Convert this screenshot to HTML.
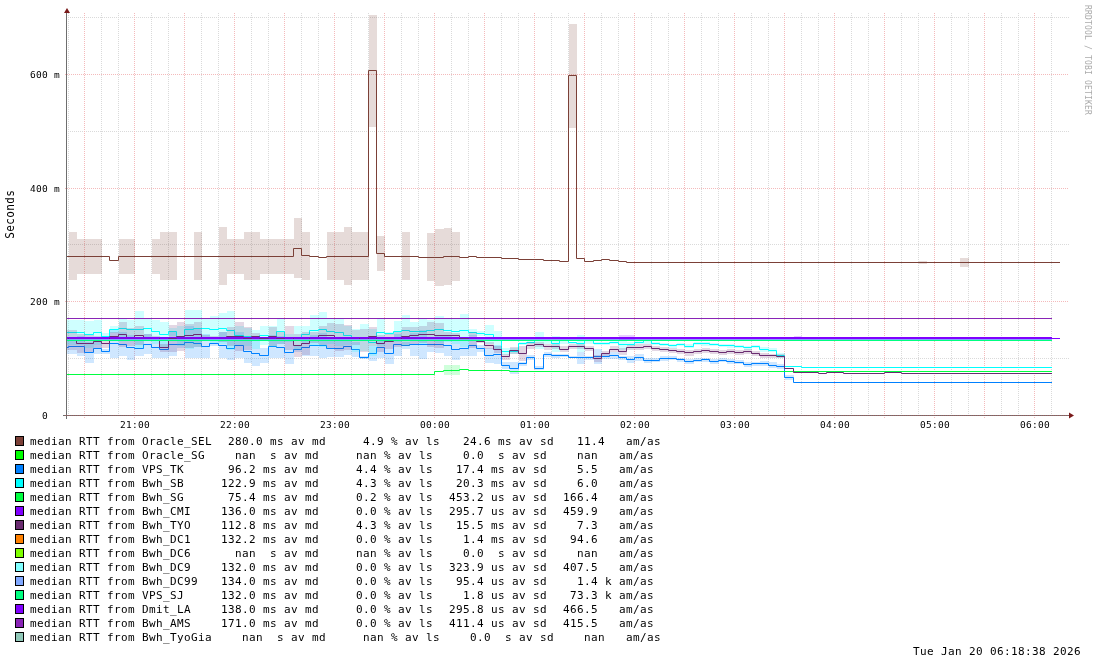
<!DOCTYPE html>
<html lang="en"><head><meta charset="utf-8"><title>SmokePing RTT graph</title>
<style>
html,body{margin:0;padding:0;background:#fff;}
body{width:1097px;height:665px;overflow:hidden;}
svg{display:block;}
text{font-family:"DejaVu Sans Mono","Liberation Mono",monospace;fill:#000;white-space:pre;}
.lg{font-size:11px;letter-spacing:0.3774px;}
.ax{font-size:9.5px;letter-spacing:0.2805px;}
.wm{font-size:8px;letter-spacing:0.18px;fill:#aaaaaa;}
</style></head><body>
<svg width="1097" height="665" viewBox="0 0 1097 665">
<rect width="1097" height="665" fill="#fff"/>
<g fill="none" stroke-width="1" stroke-dasharray="1 1"><path d="M68.5 13V417M101.5 13V417M118.5 13V417M151.5 13V417M168.5 13V417M201.5 13V417M218.5 13V417M251.5 13V417M268.5 13V417M301.5 13V417M318.5 13V417M351.5 13V417M368.5 13V417M401.5 13V417M418.5 13V417M451.5 13V417M468.5 13V417M501.5 13V417M518.5 13V417M551.5 13V417M568.5 13V417M601.5 13V417M618.5 13V417M651.5 13V417M668.5 13V417M701.5 13V417M718.5 13V417M751.5 13V417M768.5 13V417M801.5 13V417M818.5 13V417M851.5 13V417M868.5 13V417M901.5 13V417M918.5 13V417M951.5 13V417M968.5 13V417M1001.5 13V417M1018.5 13V417M1051.5 13V417" stroke="#dadada"/><path d="M66 358.5H1069M66 244.5H1069M66 131.5H1069M66 17.5H1069" stroke="#dadada"/><path d="M84.5 13V418M134.5 13V418M184.5 13V418M234.5 13V418M284.5 13V418M334.5 13V418M384.5 13V418M434.5 13V418M484.5 13V418M534.5 13V418M584.5 13V418M634.5 13V418M684.5 13V418M734.5 13V418M784.5 13V418M834.5 13V418M884.5 13V418M934.5 13V418M984.5 13V418M1034.5 13V418" stroke="#f4babb"/><path d="M65 415.5H1069M65 301.5H1069M65 188.5H1069M65 74.5H1069" stroke="#f4babb"/></g>
<g id="plot">
<g fill="#7b4037" fill-opacity="0.19" shape-rendering="crispEdges"><rect x="69" y="232" width="8" height="48"/><rect x="77" y="239" width="25" height="35"/><rect x="119" y="239" width="16" height="35"/><rect x="152" y="239" width="8" height="35"/><rect x="160" y="232" width="17" height="48"/><rect x="194" y="232" width="8" height="48"/><rect x="219" y="227" width="8" height="58"/><rect x="227" y="239" width="17" height="35"/><rect x="244" y="232" width="16" height="48"/><rect x="260" y="239" width="34" height="35"/><rect x="294" y="218" width="8" height="60"/><rect x="302" y="232" width="8" height="48"/><rect x="327" y="232" width="17" height="48"/><rect x="344" y="227" width="8" height="58"/><rect x="352" y="232" width="17" height="48"/><rect x="369" y="15" width="8" height="112"/><rect x="377" y="236" width="8" height="35"/><rect x="402" y="232" width="8" height="48"/><rect x="427" y="233" width="8" height="48"/><rect x="435" y="229" width="9" height="57"/><rect x="444" y="228" width="8" height="57"/><rect x="452" y="232" width="8" height="49"/><rect x="569" y="24" width="8" height="104"/><rect x="919" y="261" width="8" height="3"/><rect x="960" y="258" width="9" height="9"/></g>
<path d="M67 256.5H109.5V260.5H118.5V256.5H293.5V248.5H301.5V255.5H309.5V256.5H318.5V257.5H326.5V256.5H368.5V70.5H376.5V253.5H384.5V256.5H418.5V257.5H443.5V256.5H459.5V257.5H468.5V256.5H476.5V257.5H501.5V258.5H518.5V259.5H543.5V260.5H559.5V261.5H568.5V75.5H576.5V258.5H584.5V261.5H593.5V260.5H601.5V259.5H609.5V260.5H618.5V261.5H626.5V262.5H1060" fill="none" stroke="#7b4037" stroke-width="1" stroke-linejoin="miter"/>
<g fill="#0080ff" fill-opacity="0.19" shape-rendering="crispEdges"><rect x="67" y="338" width="10" height="16"/><rect x="77" y="336" width="8" height="20"/><rect x="85" y="342" width="9" height="21"/><rect x="94" y="342" width="8" height="12"/><rect x="102" y="349" width="8" height="5"/><rect x="110" y="330" width="9" height="28"/><rect x="119" y="332" width="8" height="24"/><rect x="127" y="335" width="8" height="25"/><rect x="135" y="341" width="9" height="15"/><rect x="144" y="334" width="8" height="20"/><rect x="152" y="338" width="8" height="20"/><rect x="160" y="341" width="9" height="17"/><rect x="169" y="332" width="8" height="24"/><rect x="177" y="341" width="8" height="7"/><rect x="185" y="326" width="9" height="32"/><rect x="194" y="328" width="8" height="30"/><rect x="202" y="334" width="8" height="24"/><rect x="210" y="341" width="9" height="5"/><rect x="219" y="332" width="8" height="26"/><rect x="227" y="337" width="8" height="23"/><rect x="235" y="332" width="9" height="26"/><rect x="244" y="340" width="8" height="23"/><rect x="252" y="341" width="8" height="25"/><rect x="260" y="348" width="9" height="15"/><rect x="269" y="335" width="8" height="23"/><rect x="277" y="336" width="8" height="22"/><rect x="285" y="341" width="9" height="23"/><rect x="294" y="346" width="8" height="6"/><rect x="302" y="339" width="8" height="17"/><rect x="310" y="335" width="9" height="21"/><rect x="319" y="333" width="8" height="25"/><rect x="327" y="340" width="17" height="17"/><rect x="344" y="338" width="8" height="17"/><rect x="352" y="342" width="8" height="15"/><rect x="360" y="356" width="9" height="3"/><rect x="369" y="346" width="8" height="15"/><rect x="377" y="338" width="8" height="20"/><rect x="385" y="342" width="9" height="22"/><rect x="394" y="334" width="8" height="22"/><rect x="402" y="342" width="8" height="7"/><rect x="410" y="333" width="9" height="23"/><rect x="419" y="330" width="8" height="29"/><rect x="427" y="337" width="8" height="15"/><rect x="435" y="336" width="9" height="17"/><rect x="444" y="335" width="8" height="21"/><rect x="452" y="339" width="8" height="21"/><rect x="460" y="341" width="9" height="15"/><rect x="469" y="335" width="8" height="21"/><rect x="477" y="345" width="8" height="7"/><rect x="485" y="348" width="9" height="15"/><rect x="494" y="345" width="8" height="19"/><rect x="502" y="362" width="8" height="7"/><rect x="510" y="362" width="9" height="12"/><rect x="519" y="362" width="8" height="4"/><rect x="527" y="355" width="8" height="5"/><rect x="535" y="366" width="9" height="4"/><rect x="544" y="352" width="8" height="5"/><rect x="552" y="354" width="8" height="4"/><rect x="560" y="354" width="9" height="3"/><rect x="569" y="356" width="8" height="2"/><rect x="577" y="352" width="8" height="12"/><rect x="585" y="356" width="9" height="4"/><rect x="594" y="349" width="8" height="15"/><rect x="602" y="354" width="8" height="5"/><rect x="610" y="352" width="9" height="7"/><rect x="619" y="356" width="8" height="4"/><rect x="627" y="356" width="8" height="7"/><rect x="635" y="354" width="9" height="7"/><rect x="644" y="358" width="8" height="5"/><rect x="652" y="358" width="8" height="4"/><rect x="660" y="356" width="9" height="5"/><rect x="669" y="356" width="8" height="4"/><rect x="677" y="358" width="8" height="4"/><rect x="685" y="359" width="9" height="5"/><rect x="694" y="358" width="16" height="4"/><rect x="710" y="359" width="9" height="5"/><rect x="719" y="358" width="8" height="4"/><rect x="727" y="359" width="8" height="5"/><rect x="735" y="360" width="9" height="4"/><rect x="744" y="362" width="8" height="5"/><rect x="752" y="362" width="8" height="4"/><rect x="760" y="361" width="9" height="5"/><rect x="769" y="362" width="8" height="6"/><rect x="777" y="364" width="8" height="5"/><rect x="785" y="375" width="9" height="5"/><rect x="794" y="382" width="8" height="1"/></g>
<path d="M67 347.5H68.5V346.5H84.5V352.5H93.5V348.5H101.5V351.5H109.5V343.5H118.5V344.5H126.5V347.5H134.5V348.5H143.5V344.5H151.5V347.5H159.5V349.5H168.5V344.5H184.5V342.5H193.5V343.5H201.5V346.5H209.5V343.5H218.5V345.5H226.5V348.5H234.5V345.5H243.5V351.5H251.5V353.5H259.5V355.5H268.5V346.5H276.5V347.5H284.5V352.5H293.5V349.5H301.5V347.5H309.5V345.5H326.5V348.5H343.5V346.5H351.5V349.5H359.5V357.5H368.5V353.5H376.5V347.5H384.5V353.5H393.5V344.5H401.5V345.5H409.5V344.5H443.5V345.5H451.5V349.5H459.5V348.5H468.5V345.5H476.5V348.5H484.5V355.5H493.5V354.5H501.5V365.5H509.5V368.5H518.5V363.5H526.5V357.5H534.5V368.5H543.5V354.5H551.5V355.5H568.5V357.5H593.5V356.5H609.5V355.5H618.5V357.5H626.5V359.5H634.5V357.5H643.5V360.5H659.5V358.5H676.5V359.5H684.5V361.5H693.5V360.5H701.5V359.5H709.5V361.5H718.5V360.5H726.5V361.5H734.5V362.5H743.5V364.5H751.5V363.5H768.5V365.5H776.5V366.5H784.5V377.5H793.5V382.5H1052" fill="none" stroke="#0080ff" stroke-width="1" stroke-linejoin="miter"/>
<g fill="#00ffff" fill-opacity="0.19" shape-rendering="crispEdges"><rect x="67" y="320" width="18" height="25"/><rect x="85" y="321" width="9" height="27"/><rect x="94" y="320" width="8" height="25"/><rect x="102" y="333" width="8" height="7"/><rect x="110" y="326" width="9" height="7"/><rect x="119" y="319" width="8" height="19"/><rect x="127" y="320" width="8" height="19"/><rect x="135" y="311" width="9" height="37"/><rect x="144" y="319" width="8" height="19"/><rect x="152" y="320" width="8" height="24"/><rect x="160" y="322" width="9" height="25"/><rect x="169" y="328" width="8" height="8"/><rect x="177" y="326" width="8" height="20"/><rect x="185" y="310" width="9" height="39"/><rect x="194" y="310" width="8" height="37"/><rect x="202" y="319" width="8" height="19"/><rect x="210" y="316" width="9" height="27"/><rect x="219" y="313" width="8" height="31"/><rect x="227" y="311" width="8" height="39"/><rect x="235" y="326" width="9" height="19"/><rect x="244" y="328" width="8" height="18"/><rect x="252" y="330" width="8" height="19"/><rect x="260" y="326" width="9" height="19"/><rect x="269" y="326" width="8" height="21"/><rect x="277" y="319" width="8" height="25"/><rect x="285" y="334" width="9" height="8"/><rect x="294" y="326" width="8" height="24"/><rect x="302" y="326" width="8" height="17"/><rect x="310" y="315" width="9" height="31"/><rect x="319" y="312" width="8" height="35"/><rect x="327" y="319" width="8" height="25"/><rect x="335" y="319" width="9" height="27"/><rect x="344" y="326" width="8" height="19"/><rect x="352" y="329" width="8" height="23"/><rect x="360" y="324" width="9" height="27"/><rect x="369" y="329" width="8" height="27"/><rect x="377" y="319" width="8" height="27"/><rect x="385" y="332" width="9" height="3"/><rect x="394" y="321" width="8" height="21"/><rect x="402" y="315" width="8" height="31"/><rect x="410" y="322" width="9" height="19"/><rect x="419" y="319" width="8" height="25"/><rect x="427" y="320" width="8" height="20"/><rect x="435" y="316" width="9" height="27"/><rect x="444" y="319" width="8" height="23"/><rect x="452" y="319" width="8" height="25"/><rect x="460" y="314" width="9" height="33"/><rect x="469" y="329" width="8" height="7"/><rect x="477" y="331" width="8" height="5"/><rect x="485" y="325" width="9" height="19"/><rect x="494" y="331" width="8" height="19"/><rect x="502" y="348" width="8" height="7"/><rect x="510" y="348" width="9" height="6"/><rect x="519" y="342" width="8" height="3"/><rect x="527" y="341" width="8" height="3"/><rect x="535" y="332" width="9" height="17"/><rect x="544" y="337" width="8" height="7"/><rect x="552" y="336" width="8" height="16"/><rect x="560" y="337" width="9" height="7"/><rect x="569" y="342" width="8" height="2"/><rect x="577" y="335" width="8" height="17"/><rect x="585" y="337" width="9" height="7"/><rect x="594" y="342" width="16" height="3"/><rect x="610" y="340" width="9" height="4"/><rect x="619" y="340" width="8" height="10"/><rect x="627" y="342" width="8" height="4"/><rect x="635" y="340" width="9" height="4"/><rect x="644" y="337" width="8" height="7"/><rect x="652" y="342" width="8" height="3"/><rect x="660" y="343" width="9" height="3"/><rect x="669" y="344" width="8" height="4"/><rect x="677" y="343" width="8" height="3"/><rect x="685" y="344" width="9" height="4"/><rect x="694" y="342" width="8" height="3"/><rect x="702" y="342" width="8" height="4"/><rect x="710" y="343" width="9" height="3"/><rect x="719" y="344" width="8" height="3"/><rect x="727" y="344" width="8" height="4"/><rect x="735" y="345" width="9" height="3"/><rect x="744" y="346" width="8" height="4"/><rect x="752" y="345" width="8" height="3"/><rect x="760" y="347" width="9" height="5"/><rect x="769" y="348" width="8" height="4"/><rect x="777" y="353" width="8" height="5"/><rect x="785" y="366" width="17" height="1"/></g>
<path d="M67 332.5H84.5V334.5H93.5V332.5H101.5V336.5H109.5V329.5H118.5V328.5H126.5V329.5H143.5V328.5H151.5V331.5H159.5V334.5H168.5V331.5H176.5V336.5H184.5V329.5H193.5V328.5H209.5V329.5H218.5V328.5H226.5V330.5H234.5V335.5H243.5V336.5H251.5V339.5H259.5V335.5H268.5V336.5H276.5V331.5H284.5V338.5H293.5V337.5H301.5V334.5H309.5V330.5H318.5V329.5H326.5V331.5H334.5V332.5H343.5V335.5H351.5V340.5H359.5V337.5H368.5V342.5H376.5V332.5H384.5V333.5H393.5V331.5H401.5V330.5H409.5V331.5H426.5V330.5H434.5V329.5H443.5V330.5H451.5V331.5H459.5V330.5H468.5V332.5H476.5V333.5H484.5V334.5H493.5V340.5H501.5V351.5H518.5V343.5H526.5V342.5H534.5V340.5H551.5V343.5H559.5V340.5H568.5V342.5H576.5V343.5H584.5V340.5H593.5V343.5H609.5V342.5H618.5V344.5H634.5V342.5H643.5V340.5H651.5V343.5H659.5V344.5H668.5V345.5H676.5V344.5H684.5V346.5H693.5V343.5H709.5V344.5H718.5V345.5H734.5V346.5H743.5V347.5H751.5V346.5H759.5V349.5H768.5V350.5H776.5V355.5H784.5V366.5H801.5V367.5H1052" fill="none" stroke="#00ffff" stroke-width="1" stroke-linejoin="miter"/>
<g fill="#00ff40" fill-opacity="0.19" shape-rendering="crispEdges"><rect x="444" y="365" width="16" height="10"/></g>
<path d="M67 374.5H434.5V371.5H443.5V370.5H459.5V369.5H468.5V370.5H509.5V371.5H1052" fill="none" stroke="#00ff40" stroke-width="1" stroke-linejoin="miter"/>
<path d="M67 338.5H1060" fill="none" stroke="#8000ff" stroke-width="1"/>
<g fill="#6a2c70" fill-opacity="0.19" shape-rendering="crispEdges"><rect x="67" y="330" width="10" height="20"/><rect x="77" y="334" width="8" height="19"/><rect x="85" y="335" width="9" height="17"/><rect x="94" y="336" width="8" height="12"/><rect x="102" y="340" width="8" height="8"/><rect x="110" y="332" width="9" height="8"/><rect x="119" y="322" width="8" height="25"/><rect x="127" y="328" width="8" height="18"/><rect x="135" y="326" width="9" height="19"/><rect x="144" y="334" width="8" height="6"/><rect x="152" y="336" width="8" height="2"/><rect x="160" y="344" width="9" height="8"/><rect x="169" y="325" width="8" height="27"/><rect x="177" y="322" width="8" height="29"/><rect x="185" y="324" width="9" height="24"/><rect x="194" y="322" width="8" height="25"/><rect x="202" y="335" width="8" height="5"/><rect x="210" y="336" width="9" height="2"/><rect x="219" y="332" width="8" height="10"/><rect x="227" y="327" width="8" height="19"/><rect x="235" y="322" width="9" height="29"/><rect x="244" y="327" width="8" height="23"/><rect x="252" y="333" width="8" height="7"/><rect x="260" y="338" width="9" height="2"/><rect x="269" y="327" width="8" height="19"/><rect x="277" y="332" width="8" height="12"/><rect x="285" y="326" width="9" height="24"/><rect x="294" y="334" width="8" height="23"/><rect x="302" y="332" width="8" height="23"/><rect x="310" y="332" width="9" height="11"/><rect x="319" y="326" width="8" height="19"/><rect x="327" y="323" width="8" height="25"/><rect x="335" y="324" width="9" height="27"/><rect x="344" y="325" width="8" height="25"/><rect x="352" y="330" width="8" height="15"/><rect x="360" y="329" width="9" height="23"/><rect x="369" y="327" width="8" height="19"/><rect x="377" y="335" width="8" height="17"/><rect x="385" y="334" width="9" height="15"/><rect x="394" y="332" width="8" height="15"/><rect x="402" y="327" width="8" height="19"/><rect x="410" y="327" width="9" height="17"/><rect x="419" y="326" width="8" height="17"/><rect x="427" y="322" width="8" height="25"/><rect x="435" y="323" width="9" height="25"/><rect x="444" y="332" width="8" height="7"/><rect x="452" y="333" width="8" height="5"/><rect x="460" y="338" width="9" height="1"/><rect x="469" y="332" width="8" height="16"/><rect x="477" y="340" width="8" height="3"/><rect x="485" y="342" width="9" height="7"/><rect x="494" y="346" width="8" height="7"/><rect x="502" y="354" width="8" height="6"/><rect x="510" y="347" width="9" height="7"/><rect x="519" y="346" width="8" height="15"/><rect x="527" y="342" width="8" height="7"/><rect x="535" y="342" width="9" height="5"/><rect x="544" y="344" width="8" height="6"/><rect x="552" y="344" width="8" height="5"/><rect x="560" y="346" width="9" height="6"/><rect x="569" y="344" width="16" height="5"/><rect x="585" y="346" width="9" height="5"/><rect x="594" y="355" width="8" height="7"/><rect x="602" y="351" width="8" height="5"/><rect x="610" y="346" width="9" height="6"/><rect x="619" y="348" width="8" height="7"/><rect x="627" y="345" width="8" height="5"/><rect x="635" y="344" width="9" height="6"/><rect x="644" y="344" width="8" height="5"/><rect x="652" y="346" width="8" height="5"/><rect x="660" y="347" width="9" height="5"/><rect x="669" y="348" width="8" height="5"/><rect x="677" y="349" width="8" height="5"/><rect x="685" y="350" width="9" height="6"/><rect x="694" y="349" width="8" height="5"/><rect x="702" y="348" width="8" height="5"/><rect x="710" y="349" width="9" height="5"/><rect x="719" y="350" width="8" height="5"/><rect x="727" y="349" width="8" height="5"/><rect x="735" y="350" width="9" height="5"/><rect x="744" y="349" width="8" height="5"/><rect x="752" y="351" width="8" height="5"/><rect x="760" y="353" width="9" height="5"/><rect x="769" y="354" width="16" height="4"/><rect x="785" y="368" width="9" height="1"/></g>
<path d="M67 337.5H68.5V340.5H76.5V343.5H93.5V341.5H101.5V343.5H109.5V336.5H118.5V334.5H126.5V337.5H134.5V335.5H143.5V337.5H159.5V347.5H168.5V338.5H176.5V336.5H184.5V335.5H193.5V334.5H201.5V337.5H226.5V336.5H243.5V338.5H251.5V336.5H259.5V338.5H268.5V336.5H276.5V338.5H284.5V337.5H293.5V345.5H301.5V343.5H309.5V337.5H318.5V335.5H334.5V337.5H359.5V340.5H368.5V336.5H376.5V343.5H384.5V341.5H393.5V339.5H401.5V336.5H409.5V335.5H418.5V334.5H434.5V335.5H459.5V338.5H468.5V339.5H476.5V341.5H484.5V345.5H493.5V349.5H501.5V356.5H509.5V350.5H518.5V353.5H526.5V345.5H534.5V344.5H543.5V346.5H559.5V349.5H568.5V346.5H584.5V348.5H593.5V358.5H601.5V353.5H609.5V349.5H618.5V351.5H626.5V347.5H643.5V346.5H651.5V348.5H659.5V349.5H668.5V350.5H676.5V351.5H684.5V352.5H693.5V351.5H701.5V350.5H709.5V351.5H718.5V352.5H726.5V351.5H734.5V352.5H743.5V351.5H751.5V353.5H759.5V355.5H776.5V356.5H784.5V368.5H793.5V372.5H818.5V373.5H826.5V372.5H843.5V373.5H884.5V372.5H901.5V373.5H1052" fill="none" stroke="#6a2c70" stroke-width="1" stroke-linejoin="miter"/>
<path d="M67 340.5H1052" fill="none" stroke="#ff8000" stroke-width="1"/>
<path d="M67 340.5H1052" fill="none" stroke="#80ffff" stroke-width="1"/>
<path d="M67 339.5H1052" fill="none" stroke="#80a8ff" stroke-width="1"/>
<path d="M67 340.5H1052" fill="none" stroke="#00ff80" stroke-width="1"/>
<g fill="#8000ff" fill-opacity="0.19" shape-rendering="crispEdges"><rect x="619" y="335" width="16" height="5"/><rect x="794" y="336" width="8" height="3"/></g>
<path d="M67 337.5H1052" fill="none" stroke="#8000ff" stroke-width="1"/>
<path d="M67 318.5H1052" fill="none" stroke="#8924b6" stroke-width="1"/>
</g>
<path d="M63 415.5H1069M66.5 419V11" fill="none" stroke="#6e6e6e" stroke-width="1"/>
<path d="M65 415.5H1069" fill="none" stroke="#e05050" stroke-opacity="0.45" stroke-width="1" stroke-dasharray="1 1"/>
<path d="M1069 412.5L1074 415.5L1069 418.5Z" fill="#7a1a1a"/>
<path d="M64 13L67 8L70 13Z" fill="#7a1a1a"/>
<g class="ax">
<text x="30" y="419" xml:space="preserve">  0  </text>
<text x="30" y="305" xml:space="preserve">200 m</text>
<text x="30" y="192" xml:space="preserve">400 m</text>
<text x="30" y="78" xml:space="preserve">600 m</text>
<text x="120" y="428">21:00</text>
<text x="220" y="428">22:00</text>
<text x="320" y="428">23:00</text>
<text x="420" y="428">00:00</text>
<text x="520" y="428">01:00</text>
<text x="620" y="428">02:00</text>
<text x="720" y="428">03:00</text>
<text x="820" y="428">04:00</text>
<text x="920" y="428">05:00</text>
<text x="1020" y="428">06:00</text>
</g>
<text class="lg" transform="translate(13.7,238.8) rotate(-90) scale(1,1.13)">Seconds</text>
<text class="wm" transform="translate(1085,5) rotate(90)">RRDTOOL / TOBI OETIKER</text>
<g class="lg">
<rect x="15.5" y="436.5" width="8" height="9" fill="#7b4037" stroke="#000" stroke-width="1"/>
<text y="445" xml:space="preserve"><tspan x="30">median RTT from Oracle_SEL</tspan><tspan x="228">280.0 ms av md</tspan><tspan x="349">  4.9 % av ls</tspan><tspan x="456"> 24.6 ms av sd</tspan><tspan x="570"> 11.4   am/as</tspan></text>
<rect x="15.5" y="450.5" width="8" height="9" fill="#00ff00" stroke="#000" stroke-width="1"/>
<text y="459" xml:space="preserve"><tspan x="30">median RTT from Oracle_SG</tspan><tspan x="221">  nan  s av md</tspan><tspan x="342">  nan % av ls</tspan><tspan x="449">  0.0  s av sd</tspan><tspan x="563">  nan   am/as</tspan></text>
<rect x="15.5" y="464.5" width="8" height="9" fill="#0080ff" stroke="#000" stroke-width="1"/>
<text y="473" xml:space="preserve"><tspan x="30">median RTT from VPS_TK</tspan><tspan x="221"> 96.2 ms av md</tspan><tspan x="342">  4.4 % av ls</tspan><tspan x="449"> 17.4 ms av sd</tspan><tspan x="563">  5.5   am/as</tspan></text>
<rect x="15.5" y="478.5" width="8" height="9" fill="#00ffff" stroke="#000" stroke-width="1"/>
<text y="487" xml:space="preserve"><tspan x="30">median RTT from Bwh_SB</tspan><tspan x="221">122.9 ms av md</tspan><tspan x="342">  4.3 % av ls</tspan><tspan x="449"> 20.3 ms av sd</tspan><tspan x="563">  6.0   am/as</tspan></text>
<rect x="15.5" y="492.5" width="8" height="9" fill="#00ff40" stroke="#000" stroke-width="1"/>
<text y="501" xml:space="preserve"><tspan x="30">median RTT from Bwh_SG</tspan><tspan x="221"> 75.4 ms av md</tspan><tspan x="342">  0.2 % av ls</tspan><tspan x="449">453.2 us av sd</tspan><tspan x="563">166.4   am/as</tspan></text>
<rect x="15.5" y="506.5" width="8" height="9" fill="#8000ff" stroke="#000" stroke-width="1"/>
<text y="515" xml:space="preserve"><tspan x="30">median RTT from Bwh_CMI</tspan><tspan x="221">136.0 ms av md</tspan><tspan x="342">  0.0 % av ls</tspan><tspan x="449">295.7 us av sd</tspan><tspan x="563">459.9   am/as</tspan></text>
<rect x="15.5" y="520.5" width="8" height="9" fill="#6a2c70" stroke="#000" stroke-width="1"/>
<text y="529" xml:space="preserve"><tspan x="30">median RTT from Bwh_TYO</tspan><tspan x="221">112.8 ms av md</tspan><tspan x="342">  4.3 % av ls</tspan><tspan x="449"> 15.5 ms av sd</tspan><tspan x="563">  7.3   am/as</tspan></text>
<rect x="15.5" y="534.5" width="8" height="9" fill="#ff8000" stroke="#000" stroke-width="1"/>
<text y="543" xml:space="preserve"><tspan x="30">median RTT from Bwh_DC1</tspan><tspan x="221">132.2 ms av md</tspan><tspan x="342">  0.0 % av ls</tspan><tspan x="449">  1.4 ms av sd</tspan><tspan x="563"> 94.6   am/as</tspan></text>
<rect x="15.5" y="548.5" width="8" height="9" fill="#80ff00" stroke="#000" stroke-width="1"/>
<text y="557" xml:space="preserve"><tspan x="30">median RTT from Bwh_DC6</tspan><tspan x="221">  nan  s av md</tspan><tspan x="342">  nan % av ls</tspan><tspan x="449">  0.0  s av sd</tspan><tspan x="563">  nan   am/as</tspan></text>
<rect x="15.5" y="562.5" width="8" height="9" fill="#80ffff" stroke="#000" stroke-width="1"/>
<text y="571" xml:space="preserve"><tspan x="30">median RTT from Bwh_DC9</tspan><tspan x="221">132.0 ms av md</tspan><tspan x="342">  0.0 % av ls</tspan><tspan x="449">323.9 us av sd</tspan><tspan x="563">407.5   am/as</tspan></text>
<rect x="15.5" y="576.5" width="8" height="9" fill="#80a8ff" stroke="#000" stroke-width="1"/>
<text y="585" xml:space="preserve"><tspan x="30">median RTT from Bwh_DC99</tspan><tspan x="221">134.0 ms av md</tspan><tspan x="342">  0.0 % av ls</tspan><tspan x="449"> 95.4 us av sd</tspan><tspan x="563">  1.4 k am/as</tspan></text>
<rect x="15.5" y="590.5" width="8" height="9" fill="#00ff80" stroke="#000" stroke-width="1"/>
<text y="599" xml:space="preserve"><tspan x="30">median RTT from VPS_SJ</tspan><tspan x="221">132.0 ms av md</tspan><tspan x="342">  0.0 % av ls</tspan><tspan x="449">  1.8 us av sd</tspan><tspan x="563"> 73.3 k am/as</tspan></text>
<rect x="15.5" y="604.5" width="8" height="9" fill="#8000ff" stroke="#000" stroke-width="1"/>
<text y="613" xml:space="preserve"><tspan x="30">median RTT from Dmit_LA</tspan><tspan x="221">138.0 ms av md</tspan><tspan x="342">  0.0 % av ls</tspan><tspan x="449">295.8 us av sd</tspan><tspan x="563">466.5   am/as</tspan></text>
<rect x="15.5" y="618.5" width="8" height="9" fill="#8924b6" stroke="#000" stroke-width="1"/>
<text y="627" xml:space="preserve"><tspan x="30">median RTT from Bwh_AMS</tspan><tspan x="221">171.0 ms av md</tspan><tspan x="342">  0.0 % av ls</tspan><tspan x="449">411.4 us av sd</tspan><tspan x="563">415.5   am/as</tspan></text>
<rect x="15.5" y="632.5" width="8" height="9" fill="#90c8b8" stroke="#000" stroke-width="1"/>
<text y="641" xml:space="preserve"><tspan x="30">median RTT from Bwh_TyoGia</tspan><tspan x="228">  nan  s av md</tspan><tspan x="349">  nan % av ls</tspan><tspan x="456">  0.0  s av sd</tspan><tspan x="570">  nan   am/as</tspan></text>
</g>
<text class="lg" x="913" y="655">Tue Jan 20 06:18:38 2026</text>
</svg>
</body></html>
